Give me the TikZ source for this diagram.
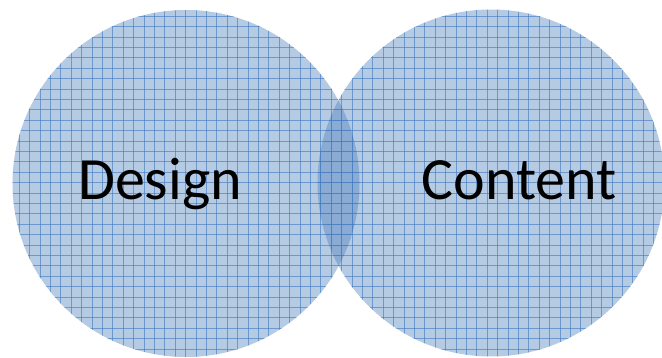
\documentclass[tikz,border=0pt]{standalone}
\usepackage{fontspec}
\setmainfont{Carlito}
\definecolor{venn}{RGB}{79,129,189}
\definecolor{gridc}{RGB}{70,125,195}
\begin{document}
\begin{tikzpicture}[x=1pt,y=-1pt,
  circfill/.style={fill=venn,fill opacity=0.42,draw=none},
  gridline/.style={draw=gridc,line width=0.9pt,opacity=0.65},
  label/.style={font=\fontsize{60}{62}\selectfont,text=black,anchor=base,inner sep=0pt}]
\useasboundingbox (0,0) rectangle (662,358);
\coordinate (cl) at (186,183.5);
\coordinate (cr) at (491,183);
\foreach \c in {cl,cr}{
  \fill[circfill] (\c) circle[radius=173.5];
  \begin{scope}
    \clip (\c) circle[radius=173.5];
    \foreach \i in {0,...,64}{
      \draw[gridline] (8.9+10.4*\i,0) -- (8.9+10.4*\i,358);
    }
    \foreach \j in {0,...,35}{
      \draw[gridline] (0,5.8+10.4*\j) -- (662,5.8+10.4*\j);
    }
  \end{scope}
}
\node[label] (design) at (160,200) {Design};
\node[label] (content) at (519,200) {Content};
\end{tikzpicture}
\end{document}
